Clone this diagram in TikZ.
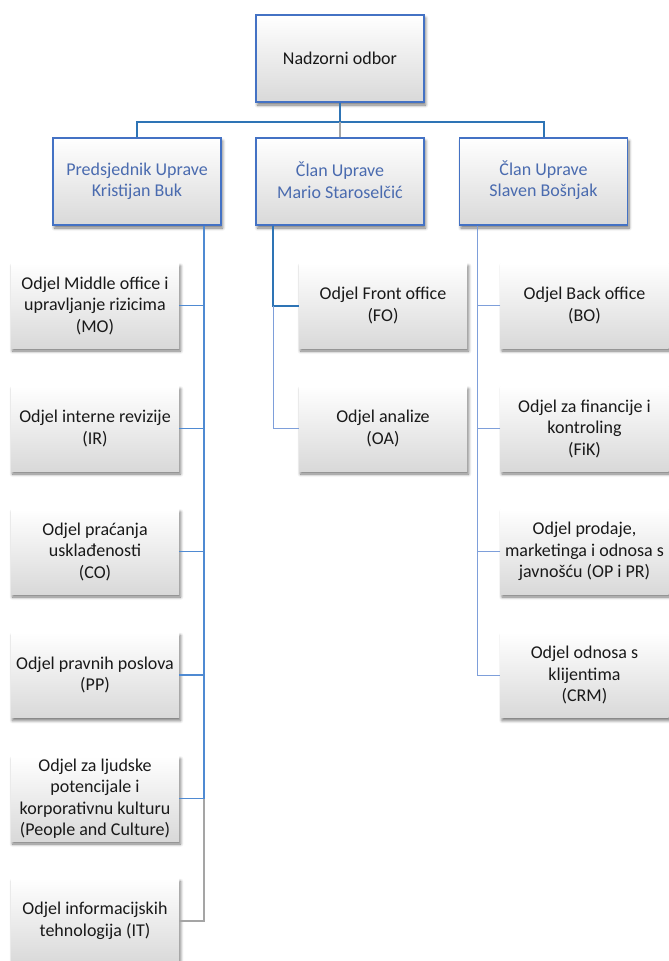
\documentclass[tikz,border=0pt]{standalone}
\usepackage{fontspec}
\setmainfont{Carlito}
\usetikzlibrary{shadows.blur}
\definecolor{boxblue}{HTML}{4472C4}
\definecolor{busblue}{HTML}{2E74B5}
\definecolor{lineblue}{HTML}{4F8AD2}
\definecolor{paleblue}{HTML}{7E9FDA}
\definecolor{linegray}{HTML}{A5A5A5}
\definecolor{headtext}{HTML}{4A6BAF}
\tikzset{
  unit/.style={align=center, minimum width=168pt, minimum height=85pt, inner sep=2pt,
    top color=white, bottom color=black!15, text=black!90,
    font=\fontsize{18}{21.5}\selectfont,
    blur shadow={shadow xshift=1.5pt, shadow yshift=-3pt, shadow blur radius=3pt,
      shadow blur steps=6, shadow opacity=55}},
  board/.style={unit, draw=boxblue, line width=1.5pt, minimum height=87pt},
  member/.style={board, text=headtext},
  bus/.style={busblue, line width=2pt},
  link/.style={lineblue, line width=1.3pt},
  paleline/.style={paleblue, line width=1pt},
  fadeline/.style={linegray, line width=1.3pt}
}
\begin{document}
\begin{tikzpicture}[x=1pt, y=-1pt]
\useasboundingbox (0,0) rectangle (669,961);
\clip (0,0) rectangle (669,961);

% board and management
\node[board] (nadzor) at (340,58.5) {Nadzorni odbor};
\node[member] (pred) at (137,181.5) {Predsjednik Uprave\\Kristijan Buk};
\node[member] (mario) at (340,181.5) {\smash{Č}lan Uprave\\Mario Staroselčić};
\node[member] (slaven) at (543.5,181.5) {\smash{Č}lan Uprave\\Slaven Bošnjak};

% departments under the president
\node[unit] (mo) at (95,305.5) {Odjel Middle office i\\upravljanje rizicima\\(MO)};
\node[unit] (ir) at (95,428.5) {Odjel interne revizije\\(IR)};
\node[unit] (co) at (95,551.5) {Odjel praćanja\\usklađenosti\\(CO)};
\node[unit] (pp) at (95,675) {Odjel pravnih poslova\\(PP)};
\node[unit] (pc) at (95,798.5) {Odjel za ljudske\\potencijale i\\korporativnu kulturu\\(People and Culture)};
\node[unit] (it) at (95,921) {Odjel informacijskih\\tehnologija (IT)};

% departments under the members
\node[unit] (fo) at (383,305.5) {Odjel Front office\\(FO)};
\node[unit] (oa) at (383,428.5) {Odjel analize\\(OA)};
\node[unit] (bo) at (584.5,305.5) {Odjel Back office\\(BO)};
\node[unit] (fik) at (584.5,428.5) {Odjel za financije i\\kontroling\\(FiK)};
\node[unit] (opr) at (584.5,551.5) {Odjel prodaje,\\marketinga i odnosa s\\javnošću (OP i PR)};
\node[unit] (crm) at (584.5,675) {Odjel odnosa s\\klijentima\\(CRM)};

\coordinate (bus) at ([yshift=-19pt]nadzor.south);
\coordinate (lspine) at ([xshift=67pt]pred.south);
\coordinate (mspine) at ([xshift=-67pt]mario.south);
\coordinate (rspine) at ([xshift=-66.5pt]slaven.south);

% top level
\draw[bus] (nadzor.south) -- (bus);
\draw[bus] (pred.north) |- (bus) -| (slaven.north);
\draw[fadeline] (bus) -- (mario.north);

% left spine
\draw[link] (lspine) -- (lspine |- pc.east);
\foreach \n in {mo,ir,co,pp,pc}
  \draw[link] (\n.east) -- (\n.east -| lspine);
\draw[fadeline] (lspine |- pc.east) |- (it.east);

% middle spine
\draw[bus] (mspine) |- (fo.west);
\draw[paleline] (mspine |- fo.west) |- (oa.west);

% right spine
\draw[paleline] (rspine) |- (crm.west);
\foreach \n in {bo,fik,opr}
  \draw[paleline] (\n.west) -- (\n.west -| rspine);
\end{tikzpicture}
\end{document}
